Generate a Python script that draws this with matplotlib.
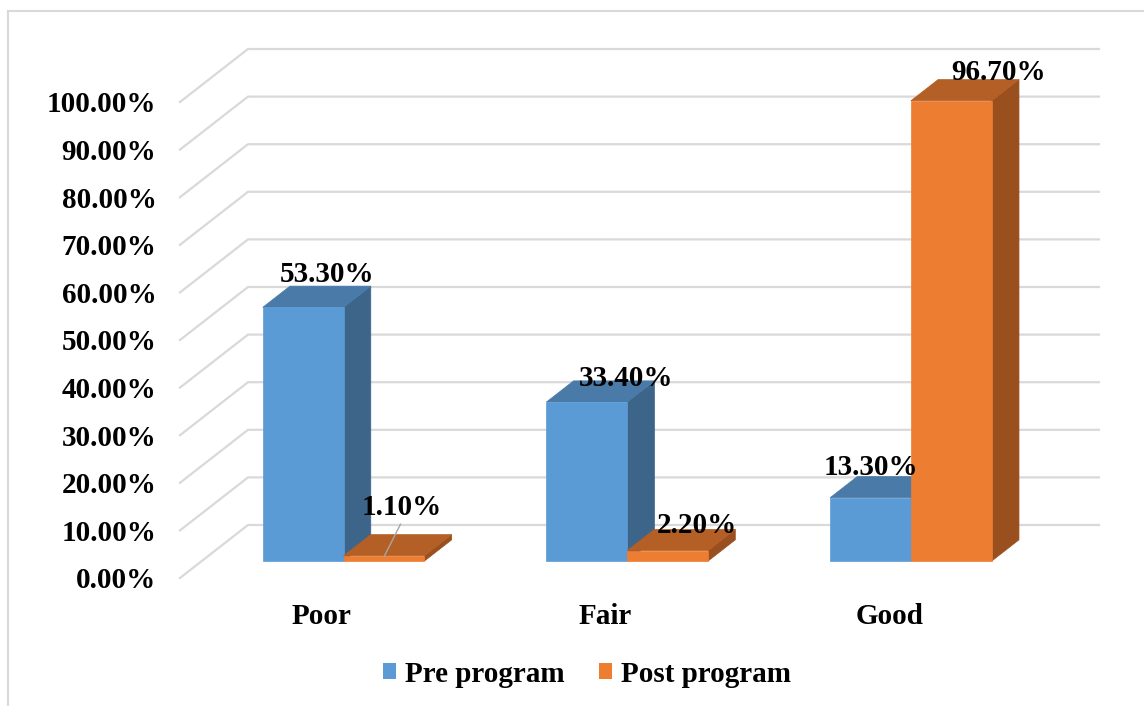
import matplotlib
matplotlib.use("Agg")
import matplotlib.pyplot as plt
from matplotlib.patches import Polygon, Patch
from matplotlib.lines import Line2D

# ---- data ----
categories = ["Poor", "Fair", "Good"]
series_names = ["Pre program", "Post program"]
pre_values = [53.3, 33.4, 13.3]
post_values = [1.1, 2.2, 96.7]
y_ticks = [0, 10, 20, 30, 40, 50, 60, 70, 80, 90, 100]

# ---- style ----
FONT = ["Liberation Serif", "DejaVu Serif"]
FS = 21
front_cols = ["#5B9BD5", "#ED7D31"]
top_cols = ["#4A7AA8", "#B45F25"]
side_cols = ["#3C6589", "#9A4F1F"]
grid_col = "#D9D9D9"

W, H = 1144, 706
fig = plt.figure(figsize=(W / 100, H / 100), dpi=100)
ax_left, ax_right = 180 / W, 1031 / W
ax_bottom, ax_top = (H - 578) / H, (H - 102) / H
ax = fig.add_axes([ax_left, ax_bottom, ax_right - ax_left, ax_top - ax_bottom])
ax.set_xlim(-0.5, 2.5)
ax.set_ylim(0, 100)

# depth vector (front floor edge -> back wall) in data units
px_per_cat = (ax_right - ax_left) * W / 3.0
px_per_pct = (ax_top - ax_bottom) * H / 100.0
DX = 68 / px_per_cat
DY = 53 / px_per_pct
z0, z1 = 0.32, 0.72  # bar front / back depth fractions
bw = 0.285

# gridlines: diagonal on left wall + horizontal on back wall
for t in y_ticks:
    ax.add_line(Line2D([-0.5, -0.5 + DX, 2.5 + DX], [t, t + DY, t + DY],
                       color=grid_col, lw=1.6, clip_on=False, zorder=1))

def draw_bar(xl, val, k):
    fx, fy = z0 * DX, z0 * DY
    d_x, d_y = (z1 - z0) * DX, (z1 - z0) * DY
    x0 = xl + fx
    x1 = xl + bw + fx
    yb = fy
    yt = val + fy
    front = Polygon([(x0, yb), (x1, yb), (x1, yt), (x0, yt)], closed=True,
                    facecolor=front_cols[k], edgecolor=front_cols[k], lw=0.5,
                    clip_on=False, zorder=3)
    top = Polygon([(x0, yt), (x1, yt), (x1 + d_x, yt + d_y), (x0 + d_x, yt + d_y)],
                  closed=True, facecolor=top_cols[k], edgecolor=top_cols[k], lw=0.5,
                  clip_on=False, zorder=3)
    side = Polygon([(x1, yb), (x1 + d_x, yb + d_y), (x1 + d_x, yt + d_y), (x1, yt)],
                   closed=True, facecolor=side_cols[k], edgecolor=side_cols[k], lw=0.5,
                   clip_on=False, zorder=3)
    for p in (side, top, front):
        ax.add_patch(p)
    return (xl + bw / 2 + fx, yt)

# label offsets (pixels) relative to bar top front centre
label_offsets = [[(24, 33), (18, 49)], [(39, 24), (29, 25)], [(0, 30), (47, 28)]]

for i, cat in enumerate(categories):
    vals = [pre_values[i], post_values[i]]
    for k in range(2):
        xl = i - bw if k == 0 else i
        cx, cy = draw_bar(xl, vals[k], k)
        ox, oy = label_offsets[i][k]
        txt = f"{vals[k]:.2f}%"
        kw = dict(textcoords="offset pixels", ha="center", va="center",
                  fontsize=FS, fontweight="bold", family=FONT, zorder=5,
                  annotation_clip=False)
        if vals[k] < 2:
            ax.annotate(txt, xy=(cx, cy - 0.2), xytext=(ox, oy),
                        arrowprops=dict(arrowstyle="-", color="#A6A6A6", lw=1,
                                        relpos=(0.5, 0.0), shrinkA=0, shrinkB=0),
                        **kw)
        else:
            ax.annotate(txt, xy=(cx, cy), xytext=(ox, oy), **kw)

# axes formatting
ax.set_yticks(y_ticks)
ax.set_yticklabels([f"{t:.2f}%" for t in y_ticks], fontsize=FS,
                   fontweight="bold", family=FONT)
ax.set_xticks(range(len(categories)))
ax.set_xticklabels(categories, fontsize=FS, fontweight="bold", family=FONT)
ax.tick_params(axis="y", length=0, pad=17)
ax.tick_params(axis="x", length=0, pad=18)
for s in ax.spines.values():
    s.set_visible(False)
ax.patch.set_visible(False)

# legend
handles = [Patch(facecolor=front_cols[0], edgecolor="none"),
           Patch(facecolor=front_cols[1], edgecolor="none")]
fig.legend(handles, series_names, loc="center", bbox_to_anchor=(587 / W, 1 - 674 / H),
           ncol=2, frameon=False, handlelength=0.45, handleheight=0.45,
           handletextpad=0.3, columnspacing=1.2,
           prop=dict(family=FONT, weight="bold", size=FS))

# chart area border (top and left visible)
fig.add_artist(Line2D([8 / W, 8 / W], [0, 1 - 11 / H], color=grid_col, lw=1.5,
                      transform=fig.transFigure))
fig.add_artist(Line2D([8 / W, 1], [1 - 11 / H, 1 - 11 / H], color=grid_col, lw=1.5,
                      transform=fig.transFigure))

fig.savefig("out.png", dpi=100, facecolor="white")
